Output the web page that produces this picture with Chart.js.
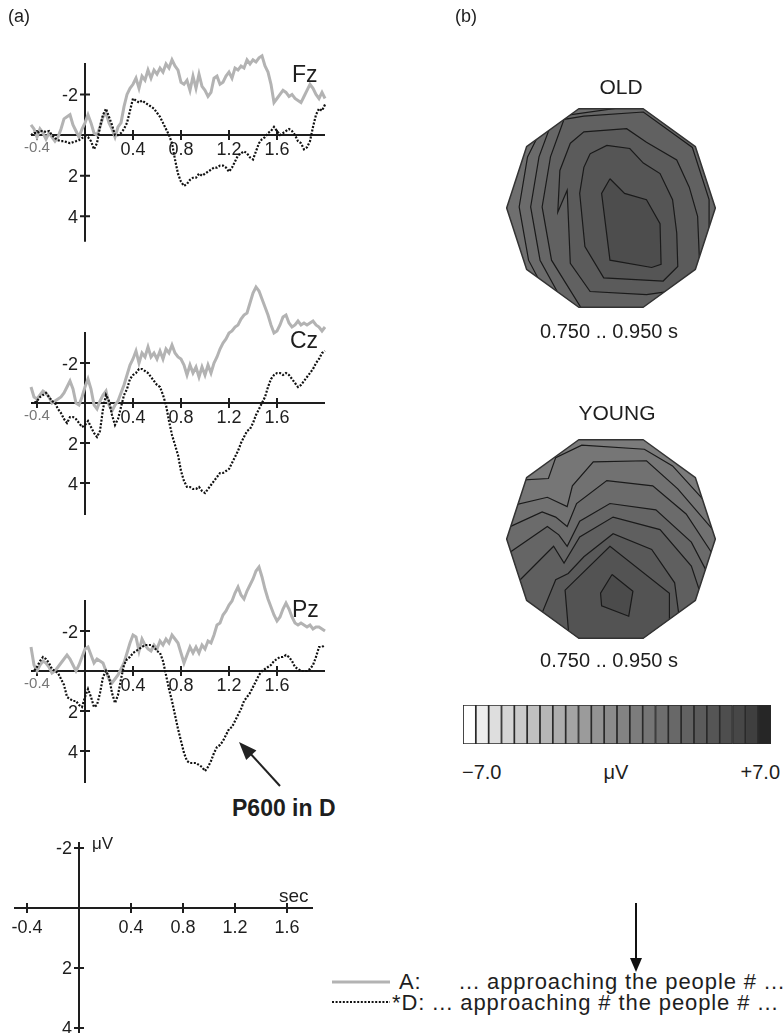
<!DOCTYPE html>
<html>
<head>
<meta charset="utf-8">
<title>P600 old vs young</title>
<script src="https://cdn.jsdelivr.net/npm/chart.js@4.4.1/dist/chart.umd.min.js"></script>
<style>
  body { margin: 0; background: #fff; }
  #page { position: relative; width: 784px; height: 1033px; overflow: hidden;
          font-family: "Liberation Sans", Arial, sans-serif; color: #1e1e1e; }
  #page canvas { position: absolute; }
  .t { position: absolute; white-space: nowrap; line-height: 1; transform: translateY(-50%); }
  .c { transform: translate(-50%, -50%); }
  .key { font-size: 22px; letter-spacing: 0.9px; }
</style>
</head>
<body>
<div id="page">
  <canvas id="fz" width="340" height="254" style="left:0;top:3px"></canvas>
  <canvas id="cz" width="340" height="250" style="left:0;top:273px"></canvas>
  <canvas id="pz" width="340" height="250" style="left:0;top:541px"></canvas>
  <canvas id="scaleKey" width="340" height="203" style="left:0;top:830px"></canvas>
  <canvas id="mapOld" width="240" height="240" style="left:491px;top:88px"></canvas>
  <canvas id="mapYoung" width="240" height="240" style="left:491px;top:419px"></canvas>
  <canvas id="colorBar" width="308" height="39" style="left:463px;top:705px"></canvas>

  <div class="t" style="left:8px;top:16px;font-size:18px">(a)</div>
  <div class="t" style="left:455px;top:16px;font-size:18px">(b)</div>
  <div class="t" style="left:292px;top:74px;font-size:23px">Fz</div>
  <div class="t" style="left:290px;top:340px;font-size:23px">Cz</div>
  <div class="t" style="left:292px;top:609px;font-size:23px">Pz</div>
  <div class="t" style="left:232px;top:808px;font-size:23px;font-weight:bold">P600 in D</div>
  <div class="t" style="left:92px;top:843px;font-size:17px">μV</div>
  <div class="t" style="left:279px;top:895px;font-size:19px">sec</div>

  <div class="t c" style="left:621px;top:86px;font-size:21px">OLD</div>
  <div class="t c" style="left:609px;top:331px;font-size:20px">0.750 .. 0.950 s</div>
  <div class="t c" style="left:617px;top:412px;font-size:21px">YOUNG</div>
  <div class="t c" style="left:609px;top:660px;font-size:20px">0.750 .. 0.950 s</div>
  <div class="t" style="left:462px;top:772px;font-size:20px">−7.0</div>
  <div class="t c" style="left:616px;top:772px;font-size:20px">μV</div>
  <div class="t" style="right:4px;top:772px;font-size:20px">+7.0</div>

  <div class="t key" style="left:399px;top:982px">A:</div>
  <div class="t key" style="left:459px;top:982px">... approaching the people # ...</div>
  <div class="t key" style="left:392px;top:1003px">*D: ... approaching # the people # ...</div>

  <svg width="784" height="1033" style="position:absolute;left:0;top:0">
    <line x1="280" y1="786" x2="249" y2="752" stroke="#222" stroke-width="2"/>
    <polygon points="239,742 256.4,750.4 246.2,760" fill="#222"/>
    <line x1="636" y1="903" x2="636" y2="960" stroke="#111" stroke-width="2"/>
    <polygon points="630,958 642,958 636,972" fill="#111"/>
    <line x1="332" y1="982" x2="390" y2="982" stroke="#b3b3b3" stroke-width="3"/>
    <line x1="332" y1="1002" x2="390" y2="1002" stroke="#111" stroke-width="2.2" stroke-dasharray="2 1.6"/>
  </svg>
</div>

<script>
// sampling grid of the averaged epochs (sec)
const SAMPLE_START = -0.45;
const SAMPLE_STEP = 0.025;

// grand averages in microvolts, condition A (grey) and *D (dotted)
const fzA = [-0.5,-0.3,0.1,-0.3,-0.1,0.2,-0.1,0.1,0.3,0.1,
  -0.3,-0.8,-0.9,-1.0,-0.5,-0.2,0.1,-0.3,-0.6,-1.0,
  -0.6,-0.1,0.0,-0.4,-0.9,-1.1,-0.6,-0.3,0.1,-0.4,
  -0.6,-1.4,-2.0,-2.3,-2.5,-2.8,-2.3,-2.9,-2.7,-3.2,
  -2.8,-3.2,-3.0,-3.3,-3.1,-3.5,-3.3,-3.7,-3.4,-3.2,
  -2.6,-2.5,-2.7,-2.2,-2.9,-2.3,-3.0,-2.4,-2.2,-1.9,
  -2.1,-2.8,-2.9,-2.5,-2.6,-2.9,-3.1,-2.8,-3.3,-3.2,
  -3.4,-3.3,-3.7,-3.5,-3.7,-3.6,-3.8,-3.9,-3.4,-3.1,
  -2.5,-1.6,-1.8,-2.0,-2.2,-2.1,-1.9,-2.0,-1.8,-1.7,
  -1.6,-1.9,-2.2,-2.5,-2.3,-2.0,-1.8,-2.1,-1.8];
const fzD = [0.0,-0.1,-0.1,-0.2,-0.2,-0.15,-0.2,0.0,0.15,0.25,
  0.3,0.3,0.35,0.4,0.35,0.3,0.25,0.15,0.05,0.1,
  0.3,0.7,0.4,-0.4,-1.0,-1.3,-0.9,-0.5,0.0,0.0,
  -0.1,-0.3,-0.6,-1.2,-1.8,-1.7,-1.6,-1.7,-1.6,-1.5,
  -1.4,-1.3,-1.1,-0.9,-0.6,-0.3,0.0,0.4,1.2,1.9,
  2.3,2.5,2.4,2.2,2.1,2.1,1.9,2.0,1.9,1.8,
  1.7,1.6,1.6,1.5,1.5,1.6,1.8,1.6,1.3,1.0,
  0.9,0.8,0.9,1.1,1.2,0.8,0.4,0.2,0.1,-0.1,
  -0.2,-0.4,-0.2,0.0,-0.1,-0.2,-0.3,-0.2,0.0,0.3,
  0.4,0.7,0.6,0.3,-0.4,-1.0,-1.3,-1.2,-1.5];
const czA = [-0.8,-0.3,-0.2,-0.4,-0.6,-0.5,-0.3,0.0,-0.1,-0.2,
  -0.3,-0.5,-0.8,-1.1,-0.7,0.0,0.1,-0.3,-0.8,-1.2,
  -0.7,0.1,0.3,-0.1,-0.4,-0.6,0.1,0.4,0.1,-0.1,
  -0.5,-0.9,-1.4,-1.9,-2.2,-2.6,-2.0,-2.5,-2.3,-2.8,
  -2.3,-2.5,-2.2,-2.6,-2.2,-2.7,-2.5,-2.9,-2.5,-2.3,
  -2.2,-1.9,-1.4,-1.9,-1.5,-1.8,-1.3,-1.8,-1.4,-1.9,
  -1.5,-2.0,-2.3,-2.7,-3.0,-3.2,-3.5,-3.6,-3.8,-3.9,
  -4.2,-4.4,-4.5,-5.0,-5.5,-5.8,-5.6,-5.2,-4.8,-4.4,
  -3.9,-3.5,-3.6,-3.9,-4.3,-4.4,-4.0,-3.8,-3.9,-4.1,
  -3.9,-4.0,-3.9,-4.0,-4.1,-3.9,-3.8,-3.6,-3.8];
const czD = [0.0,0.0,-0.1,-0.3,-0.4,-0.5,-0.3,-0.1,0.0,0.3,
  0.5,0.8,1.0,0.7,0.7,0.8,1.0,1.2,1.1,0.9,
  1.2,1.5,1.7,1.4,0.3,-0.4,-0.1,0.6,1.1,0.8,
  0.2,-0.4,-0.7,-1.2,-1.4,-1.5,-1.7,-1.7,-1.6,-1.5,
  -1.3,-1.1,-0.9,-0.8,-0.4,0.1,0.9,1.6,2.1,2.6,
  3.4,3.9,4.2,4.2,4.3,4.3,4.2,4.4,4.5,4.3,
  4.1,3.9,3.7,3.5,3.5,3.4,3.3,3.0,2.7,2.4,
  2.0,1.7,1.4,1.3,1.0,0.6,0.3,0.0,-0.3,-0.8,
  -1.2,-1.4,-1.5,-1.5,-1.4,-1.5,-1.4,-1.2,-1.0,-0.8,
  -0.9,-1.1,-1.3,-1.5,-1.7,-2.0,-2.2,-2.5,-2.6];
const pzA = [-1.2,-0.3,0.0,-0.3,-0.5,-0.4,-0.2,0.1,0.0,-0.2,
  -0.4,-0.6,-0.8,-0.6,-0.3,0.0,-0.3,-0.7,-1.1,-1.2,
  -0.8,-0.4,-0.6,-0.5,-0.4,0.0,0.4,0.6,0.4,0.2,
  -0.1,-0.4,-0.9,-1.4,-1.8,-1.7,-1.0,-1.6,-1.3,-1.1,
  -1.0,-1.3,-1.1,-1.5,-1.3,-1.6,-1.4,-1.8,-1.6,-1.4,
  -0.9,-0.4,-0.8,-1.2,-0.9,-1.2,-0.9,-1.3,-1.1,-1.5,
  -1.4,-1.8,-2.3,-2.4,-2.8,-3.0,-3.3,-3.5,-3.9,-4.2,
  -3.8,-3.6,-4.0,-4.3,-4.6,-5.0,-5.2,-4.7,-4.1,-3.6,
  -3.2,-2.8,-2.5,-2.7,-3.1,-3.4,-3.1,-2.7,-2.4,-2.3,
  -2.4,-2.3,-2.2,-2.3,-2.1,-2.2,-2.2,-2.1,-2.0];
const pzD = [0.0,0.0,-0.2,-0.5,-0.7,-0.6,-0.4,-0.1,0.0,0.1,
  0.4,0.7,1.3,1.4,1.5,1.5,1.7,1.8,1.3,0.9,
  1.3,1.8,1.7,1.1,0.3,0.0,0.3,1.1,1.6,1.2,
  0.4,-0.3,-0.6,-0.7,-0.9,-1.0,-1.1,-1.2,-1.3,-1.3,
  -1.3,-1.2,-1.0,-0.9,-0.5,0.2,0.9,1.5,2.2,2.9,
  3.5,4.1,4.5,4.6,4.6,4.6,4.7,4.8,5.0,4.8,
  4.5,4.1,3.8,3.7,3.5,3.2,2.9,2.8,2.5,2.2,
  1.9,1.5,1.3,1.1,0.8,0.5,0.2,0.0,-0.1,-0.2,
  -0.3,-0.5,-0.6,-0.7,-0.7,-0.8,-0.7,-0.5,-0.2,-0.1,
  0.0,0.0,0.0,-0.1,-0.3,-0.7,-1.2,-1.2,-1.3];

const timeTicks = [-0.4, 0.4, 0.8, 1.2, 1.6];
const voltTicks = [-2, 2, 4];

// scalp maps, head coordinates (radius 1, nose up)
const headOutline = [[0.309,0.951],[-0.309,0.951],[-0.809,0.588],[-1,0],[-0.809,-0.588],
  [-0.309,-0.951],[0.309,-0.951],[0.809,-0.588],[1,0],[0.809,0.588]];
const oldContours = [
  [[-0.66,0.77],[0.43,1.06],[1.07,0.46],[1.07,-0.62],[0.43,-1.13],[-0.49,-1.07],[-0.79,-0.50],[-0.88,0.01],[-0.80,0.49]],
  [[-0.55,0.87],[0.43,1.01],[1.02,0.46],[1.02,-0.62],[0.43,-1.10],[-0.39,-1.03],[-0.68,-0.50],[-0.77,0.01],[-0.69,0.49]],
  [[-0.45,0.85],[-0.26,0.88],[0.31,0.92],[0.78,0.58],[0.94,0.08],[0.94,-0.62],[0.43,-1.07],[-0.26,-1.00],[-0.57,-0.50],[-0.66,0.01],[-0.58,0.49]],
  [[-0.39,0.62],[-0.26,0.73],[0.15,0.76],[0.34,0.63],[0.63,0.46],[0.75,0.20],[0.83,-0.08],[0.85,-0.56],[0.69,-0.78],[0.34,-0.83],[-0.20,-0.80],[-0.39,-0.53],[-0.42,0.17],[-0.51,-0.04],[-0.49,0.36]],
  [[-0.20,0.52],[-0.04,0.60],[0.18,0.57],[0.31,0.43],[0.47,0.33],[0.59,0.08],[0.63,-0.24],[0.64,-0.56],[0.50,-0.70],[-0.07,-0.67],[-0.25,-0.37],[-0.30,0.14],[-0.26,0.39]],
  [[-0.01,0.28],[0.13,0.14],[0.34,0.08],[0.47,-0.15],[0.48,-0.54],[0.39,-0.57],[-0.01,-0.50],[-0.09,0.14]]
];
const youngContours = [
  [[-0.96,0.56],[-0.60,0.58],[-0.53,0.78],[-0.28,0.90],[0.32,0.86],[0.59,0.70],[1.01,0.24],[1.4,0.24],[1.4,-1.4],[-1.4,-1.4],[-1.4,0.56]],
  [[-0.99,0.31],[-0.61,0.40],[-0.42,0.31],[-0.37,0.51],[-0.17,0.74],[0.34,0.75],[0.64,0.48],[1.01,0.05],[1.4,0.05],[1.4,-1.4],[-1.4,-1.4],[-1.4,0.31]],
  [[-1.03,0.09],[-0.66,0.26],[-0.53,0.21],[-0.42,0.12],[-0.33,0.34],[-0.04,0.56],[0.40,0.51],[0.72,0.24],[1.01,-0.20],[1.4,-0.20],[1.4,-1.4],[-1.4,-1.4],[-1.4,0.09]],
  [[-1.03,-0.17],[-0.61,0.12],[-0.50,0.04],[-0.42,-0.07],[-0.30,0.17],[-0.01,0.34],[0.43,0.28],[0.77,-0.03],[1.01,-0.49],[1.4,-0.49],[1.4,-1.4],[-1.4,-1.4],[-1.4,-0.17]],
  [[-0.93,-0.45],[-0.55,-0.07],[-0.45,-0.23],[-0.30,0.02],[0.02,0.21],[0.47,0.09],[0.77,-0.26],[0.94,-0.77],[1.4,-1.4],[-1.4,-1.4],[-1.4,-0.45]],
  [[-0.71,-0.83],[-0.53,-0.39],[-0.41,-0.33],[-0.26,-0.17],[0.02,0.05],[0.39,-0.10],[0.61,-0.42],[0.69,-1.03],[0.69,-1.4],[-0.71,-1.4]],
  [[-0.39,-1.09],[-0.44,-0.49],[-0.01,-0.07],[0.56,-0.52],[0.56,-0.77],[0.47,-1.09]],
  [[0.01,-0.34],[0.21,-0.50],[0.17,-0.74],[-0.09,-0.64],[-0.10,-0.52]]
];

// colour scale, -7 .. +7 microvolt in 24 steps
const barLevels = [-6.71,-6.13,-5.54,-4.96,-4.38,-3.79,-3.21,-2.63,-2.04,-1.46,-0.88,-0.29,
  0.29,0.88,1.46,2.04,2.63,3.21,3.79,4.38,4.96,5.54,6.13,6.71];
const barValues = [1,1,1,1,1,1,1,1,1,1,1,1,1,1,1,1,1,1,1,1,1,1,1,1];

// styles
const barShades = ['#ffffff','#ededed','#dedede','#d5d5d5','#cacaca','#c0c0c0','#b6b6b6','#adadad',
  '#a4a4a4','#9b9b9b','#939393','#8b8b8b','#838383','#7c7c7c','#757575','#6e6e6e',
  '#686868','#626262','#5b5b5b','#555555','#4e4e4e','#474747','#3f3f3f','#262626'];
const oldShades = ['#6f6f6f','#6b6b6b','#666666','#616161','#5b5b5b','#555555','#4d4d4d'];
const youngShades = ['#7b7b7b','#767676','#717171','#6b6b6b','#656565','#5f5f5f','#595959','#535353','#4b4b4b'];
const FONT = '"Liberation Sans", Arial, sans-serif';
const INK = '#1e1e1e';

function epoch(values) {
  return values.map((v, i) => ({ x: SAMPLE_START + i * SAMPLE_STEP, y: v }));
}
function ring(poly) {
  return poly.concat([poly[0]]).map(([u, w]) => ({ x: u, y: w }));
}

// axes crossing at the origin, ticks on both sides
const crossAxes = {
  id: 'crossAxes',
  beforeDatasetsDraw(chart, args, o) {
    const { ctx, scales: { x, y } } = chart;
    const ox = x.getPixelForValue(0), oy = y.getPixelForValue(0);
    ctx.save();
    ctx.strokeStyle = INK;
    ctx.lineWidth = 2;
    ctx.beginPath();
    ctx.moveTo(x.getPixelForValue(o.xFrom), oy);
    ctx.lineTo(x.getPixelForValue(o.xTo), oy);
    ctx.moveTo(ox, y.getPixelForValue(o.yFrom));
    ctx.lineTo(ox, y.getPixelForValue(o.yTo));
    timeTicks.forEach(t => {
      const px = x.getPixelForValue(t);
      ctx.moveTo(px, oy - 5); ctx.lineTo(px, oy + 5);
    });
    voltTicks.forEach(v => {
      const py = y.getPixelForValue(v);
      ctx.moveTo(ox - 5, py); ctx.lineTo(ox + 5, py);
    });
    ctx.stroke();

    ctx.fillStyle = INK;
    ctx.textAlign = 'center';
    ctx.textBaseline = 'alphabetic';
    timeTicks.forEach(t => {
      const px = x.getPixelForValue(t);
      if (t < 0 && o.dimNegative) {
        ctx.save();
        ctx.fillStyle = '#777';
        ctx.font = '15px ' + FONT;
        ctx.fillText(t.toFixed(1), px, oy + 17);
        ctx.restore();
      } else {
        ctx.font = '18px ' + FONT;
        ctx.fillText(t.toFixed(1), px, oy + o.labelDrop);
      }
    });
    ctx.font = '18px ' + FONT;
    ctx.textAlign = 'right';
    voltTicks.forEach(v => ctx.fillText(String(v), ox - 7, y.getPixelForValue(v) + 6.5));
    ctx.restore();
  }
};

// clip contour fills to the head outline, then draw the outline
function headPath(chart) {
  const { ctx, scales: { x, y } } = chart;
  ctx.beginPath();
  headOutline.forEach(([u, w], i) => {
    const px = x.getPixelForValue(u), py = y.getPixelForValue(w);
    if (i) ctx.lineTo(px, py); else ctx.moveTo(px, py);
  });
  ctx.closePath();
}
const headClip = {
  id: 'headClip',
  beforeDatasetsDraw(chart) {
    chart.ctx.save();
    headPath(chart);
    chart.ctx.clip();
  },
  afterDatasetsDraw(chart) {
    const ctx = chart.ctx;
    ctx.restore();
    ctx.save();
    ctx.strokeStyle = '#333';
    ctx.lineWidth = 1.5;
    ctx.lineJoin = 'round';
    headPath(chart);
    ctx.stroke();
    ctx.restore();
  }
};

const quiet = { legend: { display: false }, tooltip: { enabled: false } };

function erpChart(id, grey, dotted, yTo) {
  return new Chart(document.getElementById(id), {
    type: 'line',
    data: {
      datasets: [
        { data: epoch(dotted), borderColor: '#111', borderWidth: 2.2, borderDash: [2, 1.6],
          pointRadius: 0, tension: 0, clip: false },
        { data: epoch(grey), borderColor: '#b3b3b3', borderWidth: 3,
          pointRadius: 0, tension: 0, clip: false }
      ]
    },
    options: {
      responsive: false, animation: false, devicePixelRatio: 1, events: [],
      layout: { padding: { left: 31, right: 15, top: 0, bottom: 0 } },
      scales: {
        x: { type: 'linear', min: -0.45, max: 2.0, display: false },
        y: { min: -6.5, max: 6.0, reverse: true, display: false }
      },
      plugins: Object.assign({}, quiet, {
        crossAxes: { xFrom: -0.45, xTo: 2.0, yFrom: -3.55, yTo: yTo, labelDrop: 19.5, dimNegative: true }
      })
    },
    plugins: [crossAxes]
  });
}

erpChart('fz', fzA, fzD, 5.25);
erpChart('cz', czA, czD, 5.6);
erpChart('pz', pzA, pzD, 5.6);

// calibration axes
new Chart(document.getElementById('scaleKey'), {
  type: 'line',
  data: { datasets: [] },
  options: {
    responsive: false, animation: false, devicePixelRatio: 1, events: [],
    layout: { padding: { left: 14, right: 27, top: 0, bottom: 0 } },
    scales: {
      x: { type: 'linear', min: -0.5, max: 1.8, display: false },
      y: { min: -2.6, max: 4.1667, reverse: true, display: false }
    },
    plugins: Object.assign({}, quiet, {
      crossAxes: { xFrom: -0.5, xTo: 1.8, yFrom: -2.2, yTo: 4.3, labelDrop: 25.5, dimNegative: false }
    })
  },
  plugins: [crossAxes]
});

function topoChart(id, contours, shades) {
  const sets = [{ data: ring(headOutline), backgroundColor: shades[0], borderWidth: 0,
                  fill: 'shape', pointRadius: 0, order: 99 }];
  contours.forEach((poly, k) => sets.push({
    data: ring(poly), backgroundColor: shades[k + 1], borderColor: '#1a1a1a', borderWidth: 1.2,
    fill: 'shape', pointRadius: 0, tension: 0, order: 90 - k
  }));
  return new Chart(document.getElementById(id), {
    type: 'line',
    data: { datasets: sets },
    options: {
      responsive: false, animation: false, devicePixelRatio: 1, events: [],
      layout: { padding: 0 },
      scales: {
        x: { type: 'linear', min: -1.15, max: 1.15, display: false },
        y: { type: 'linear', min: -1.15, max: 1.15, display: false }
      },
      plugins: quiet
    },
    plugins: [headClip]
  });
}

topoChart('mapOld', oldContours, oldShades);
topoChart('mapYoung', youngContours, youngShades);

new Chart(document.getElementById('colorBar'), {
  type: 'bar',
  data: {
    labels: barLevels,
    datasets: [{ data: barValues, backgroundColor: barShades, borderColor: '#2a2a2a',
                 borderWidth: 1.2, borderSkipped: false, barPercentage: 1, categoryPercentage: 1 }]
  },
  options: {
    responsive: false, animation: false, devicePixelRatio: 1, events: [],
    layout: { padding: 0 },
    scales: { x: { display: false }, y: { display: false, min: 0, max: 1 } },
    plugins: quiet
  }
});
</script>
</body>
</html>
